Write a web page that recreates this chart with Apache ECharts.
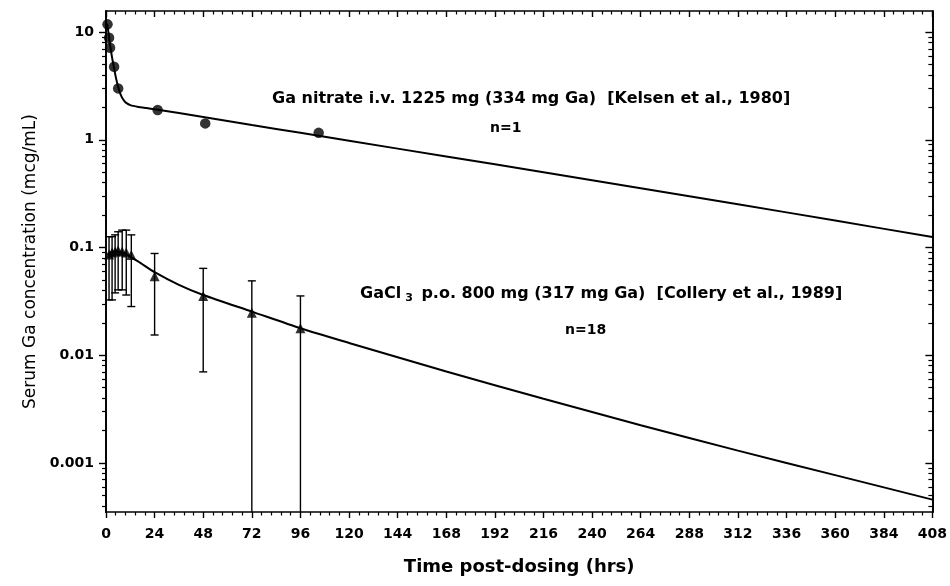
<!DOCTYPE html>
<html>
<head>
<meta charset="utf-8">
<script src="https://cdn.jsdelivr.net/npm/echarts@6/dist/echarts.min.js"></script>
<style>
html,body{margin:0;padding:0;background:#fff;}
#chart{width:950px;height:586px;}
</style>
</head>
<body>
<div id="chart"></div>
<script>
// ---- data ----
const yLabelValues = [0.001, 0.01, 0.1, 1, 10];
const xTickLabels = [0,24,48,72,96,120,144,168,192,216,240,264,288,312,336,360,384,408];

// Ga nitrate i.v. (observed, n=1)
const nitrateTimes  = [0.75, 1.5, 2, 4, 6, 25.5, 49, 105];
const nitrateValues = [11.8, 8.85, 7.15, 4.77, 3.0, 1.89, 1.42, 1.16];

// Ga nitrate fitted curve
const nitrateFitTimes  = [0.5, 1, 1.5, 2, 3, 4, 5, 6, 7, 8, 9, 10, 12, 16, 20, 24, 48, 72, 96, 120, 168, 216, 264, 312, 360, 408];
const nitrateFitValues = [12.0, 10.5, 9.0, 7.6, 5.8, 4.6, 3.7, 3.1, 2.7, 2.45, 2.3, 2.2, 2.1, 2.02, 1.97, 1.92, 1.63, 1.37, 1.16, 0.98, 0.70, 0.50, 0.355, 0.252, 0.178, 0.125];

// GaCl3 p.o. (observed mean, upper and lower error bar ends, n=18)
const gaclTimes = [1.5, 3, 4.5, 6, 8, 10, 12.5, 24, 48, 72, 96];
const gaclMeans = [0.086, 0.09, 0.092, 0.094, 0.092, 0.09, 0.085, 0.054, 0.0355, 0.0248, 0.0178];
const gaclUpper = [0.126, 0.126, 0.131, 0.140, 0.145, 0.145, 0.131, 0.088, 0.064, 0.049, 0.0355];
const gaclLower = [0.0326, 0.0326, 0.0379, 0.0404, 0.0404, 0.0362, 0.0283, 0.0154, 0.007, 0, 0];

// GaCl3 fitted curve
const gaclFitTimes  = [1, 2, 4, 6, 8, 10, 12, 16, 24, 36, 48, 72, 96, 120, 168, 216, 264, 312, 360, 408];
const gaclFitValues = [0.085, 0.089, 0.092, 0.092, 0.09, 0.087, 0.082, 0.074, 0.059, 0.045, 0.0362, 0.0254, 0.0178, 0.013, 0.00706, 0.00394, 0.00224, 0.0013, 0.00077, 0.000456];

// ---- chart ----
const Y_MIN = 0.00035, Y_MAX = 15.7;
const majorTicks = [];
const minorTicks = [];
for (let e = -4; e <= 1; e++) {
  for (let m = 1; m <= 9; m++) {
    const v = +(m * Math.pow(10, e)).toPrecision(3);
    if (v < Y_MIN || v > Y_MAX) continue;
    if (m === 1) majorTicks.push(v); else minorTicks.push(v);
  }
}
const zip = (a, b) => a.map((x, i) => [x, b[i]]);
const FONT = '"DejaVu Sans", Verdana, sans-serif';
const lineStyleAxis = { color: '#000', width: 1.7 };

function yAx(opts) {
  return Object.assign({
    type: 'log', logBase: 10, min: Y_MIN, max: Y_MAX,
    axisLine: { show: true, lineStyle: lineStyleAxis },
    splitLine: { show: false },
    axisLabel: { show: false },
    axisTick: { show: false }
  }, opts);
}

const chart = echarts.init(document.getElementById('chart'), null, { renderer: 'canvas' });
chart.setOption({
  backgroundColor: '#fff',
  animation: false,
  grid: { left: 106, right: 17, top: 11, bottom: 74, containLabel: false },
  xAxis: [
    {
      type: 'value', min: 0, max: 408, interval: 24, position: 'bottom',
      axisLine: { lineStyle: lineStyleAxis },
      axisTick: { show: true, inside: false, length: 6, lineStyle: { color: '#000', width: 1.4 } },
      minorTick: { show: true, splitNumber: 5, length: 3.5, lineStyle: { color: '#000', width: 1.2 } },
      splitLine: { show: false },
      axisLabel: { color: '#000', fontFamily: FONT, fontWeight: 'bold', fontSize: 14, margin: 15,
        customValues: xTickLabels },
      name: 'Time post-dosing (hrs)', nameLocation: 'middle', nameGap: 46,
      nameTextStyle: { color: '#000', fontFamily: FONT, fontWeight: 'bold', fontSize: 18 }
    },
    {
      type: 'value', min: 0, max: 408, interval: 24, position: 'top',
      axisLine: { lineStyle: lineStyleAxis },
      axisTick: { show: true, inside: true, length: 6, lineStyle: { color: '#000', width: 1.4 } },
      minorTick: { show: true, splitNumber: 5, length: 3.5, lineStyle: { color: '#000', width: 1.2 } },
      splitLine: { show: false },
      axisLabel: { show: false }
    }
  ],
  yAxis: [
    yAx({
      position: 'left',
      axisTick: { show: true, inside: false, length: 7, customValues: majorTicks, lineStyle: { color: '#000', width: 1.4 } },
      axisLabel: { show: true, color: '#000', fontFamily: FONT, fontWeight: 'bold', fontSize: 14, margin: 12,
        customValues: yLabelValues, formatter: v => String(+v.toPrecision(3)) },
      name: 'Serum Ga concentration (mcg/mL)', nameLocation: 'middle', nameGap: 64, nameRotate: 90,
      nameTextStyle: { color: '#000', fontFamily: FONT, fontSize: 17 }
    }),
    yAx({ position: 'left',
      axisTick: { show: true, inside: false, length: 4, customValues: minorTicks, lineStyle: { color: '#000', width: 1.2 } } }),
    yAx({ position: 'right',
      axisTick: { show: true, inside: true, length: 7, customValues: majorTicks, lineStyle: { color: '#000', width: 1.4 } } }),
    yAx({ position: 'right',
      axisTick: { show: true, inside: true, length: 4, customValues: minorTicks, lineStyle: { color: '#000', width: 1.2 } } })
  ],
  series: [
    {
      name: 'Ga nitrate fit', type: 'line', data: zip(nitrateFitTimes, nitrateFitValues),
      showSymbol: false, symbol: 'none', smooth: 0.25, clip: true,
      lineStyle: { color: '#000', width: 2 }, z: 2
    },
    {
      name: 'Ga nitrate', type: 'scatter', data: zip(nitrateTimes, nitrateValues),
      symbol: 'circle', symbolSize: 10.5, itemStyle: { color: '#000' }, z: 4
    },
    {
      name: 'GaCl3 fit', type: 'line', data: zip(gaclFitTimes, gaclFitValues),
      showSymbol: false, symbol: 'none', smooth: 0.25, clip: true,
      lineStyle: { color: '#000', width: 2 }, z: 2
    },
    {
      name: 'GaCl3 error', type: 'custom',
      data: gaclTimes.map((t, i) => [t, gaclLower[i], gaclUpper[i]]),
      renderItem: function (params, api) {
        const t = api.value(0);
        const lo = Math.max(api.value(1), Y_MIN);
        const hi = api.value(2);
        const pLo = api.coord([t, lo]);
        const pHi = api.coord([t, hi]);
        const hw = 4;
        const st = { stroke: '#000', lineWidth: 1.4 };
        const children = [
          { type: 'line', shape: { x1: pHi[0], y1: pHi[1], x2: pLo[0], y2: pLo[1] }, style: st },
          { type: 'line', shape: { x1: pHi[0] - hw, y1: pHi[1], x2: pHi[0] + hw, y2: pHi[1] }, style: st }
        ];
        if (api.value(1) > Y_MIN) {
          children.push({ type: 'line', shape: { x1: pLo[0] - hw, y1: pLo[1], x2: pLo[0] + hw, y2: pLo[1] }, style: st });
        }
        return { type: 'group', children: children };
      },
      encode: { x: 0, y: [1, 2] }, z: 3
    },
    {
      name: 'GaCl3', type: 'scatter', data: zip(gaclTimes, gaclMeans),
      symbol: 'triangle', symbolSize: 10, itemStyle: { color: '#000' }, z: 4
    }
  ],
  graphic: [
    { type: 'text', left: 272, top: 91, style: { text: 'Ga nitrate i.v. 1225 mg (334 mg Ga)  [Kelsen et al., 1980]',
        font: 'bold 16px ' + FONT, fill: '#000' } },
    { type: 'text', left: 490, top: 121, style: { text: 'n=1', font: 'bold 14px ' + FONT, fill: '#000' } },
    { type: 'text', left: 360, top: 286, style: {
        text: 'GaCl{sub|3} p.o. 800 mg (317 mg Ga)  [Collery et al., 1989]',
        font: 'bold 16px ' + FONT, fill: '#000',
        rich: { sub: { fontSize: 11, fontWeight: 'bold', fontFamily: 'DejaVu Sans', padding: [8, 3, 0, 4], fill: '#000' } } } },
    { type: 'text', left: 565, top: 323, style: { text: 'n=18', font: 'bold 14px ' + FONT, fill: '#000' } }
  ]
});
</script>
</body>
</html>
